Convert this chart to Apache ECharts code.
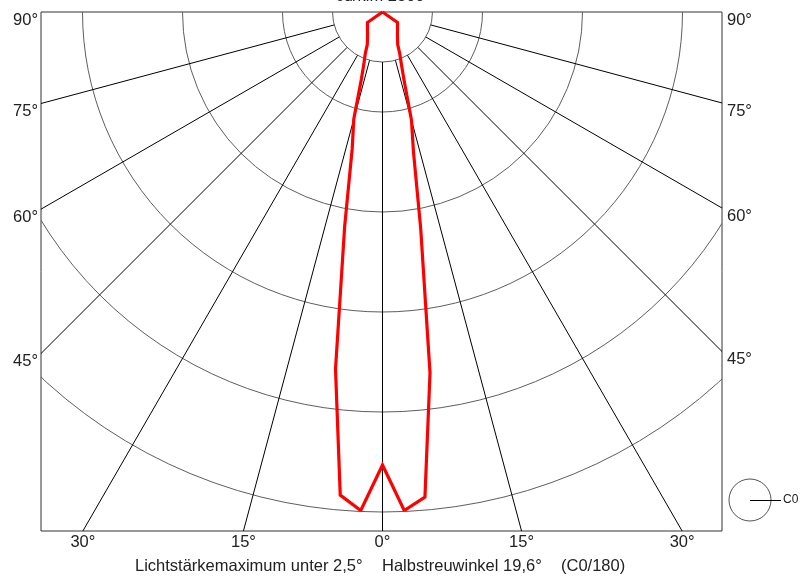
<!DOCTYPE html>
<html>
<head>
<meta charset="utf-8">
<script src="https://cdn.jsdelivr.net/npm/echarts@6/dist/echarts.min.js"></script>
<style>
  html, body { margin: 0; padding: 0; background: #fff; }
  #chart { width: 800px; height: 578px; }
</style>
</head>
<body>
<div id="chart"></div>
<script>
// Luminous intensity (cd/klm) per gamma angle in degrees, C0 and C180 half-planes
const gammaAngles   = [0, 2.5, 5, 7.5, 10, 12.5, 15, 17.5, 20, 22.5, 25, 30, 35, 40, 45, 50, 55, 60, 70, 80, 90];
const intensityC0   = [2265, 2495, 2435, 1820, 1100, 715, 560, 360, 275, 225, 180, 150, 130, 117, 106, 98, 92, 0, 0, 0, 0];
const intensityC180 = [2265, 2495, 2425, 1800, 1090, 700, 555, 350, 270, 225, 180, 150, 130, 117, 106, 98, 92, 0, 0, 0, 0];

// Grid: intensity rings and angle spokes
const ringValues = [250, 500, 1000, 1500, 2000, 2500];
const spokeAngles = [-75, -60, -45, -30, -15, 0, 15, 30, 45, 60, 75];
const sideTickAngles = [45, 60, 75, 90];
const bottomTickAngles = [-30, -15, 0, 15, 30];

const unitLabel = 'cd/klm 2500';
const peakText = 'Lichtstärkemaximum unter 2,5°';
const beamText = 'Halbstreuwinkel 19,6°';
const planeText = '(C0/180)';
const planeMark = 'C0';

// Layout (pixels) and scale: 5 cd/klm per pixel
const CX = 382.5, CY = 12;
const FRAME = { left: 41, top: 12, right: 722, bottom: 531 };
const UNITS_PER_PX = 5;
const X_MIN = -(CX - FRAME.left) * UNITS_PER_PX;
const X_MAX = (FRAME.right - CX) * UNITS_PER_PX;
const Y_MIN = -(FRAME.bottom - FRAME.top) * UNITS_PER_PX;
const R_MAX = 2500;

const LABEL_FONT = '16.5px "Liberation Sans", Arial, sans-serif';
const TEXT_COLOR = '#222';

// Polar curve: C180 on the left (angles 360-g), C0 on the right
const curve = [];
for (let i = gammaAngles.length - 1; i >= 1; i--) curve.push([intensityC180[i], 360 - gammaAngles[i]]);
curve.push([intensityC0[0], 0]);
for (let i = 1; i < gammaAngles.length; i++) curve.push([intensityC0[i], gammaAngles[i]]);

const rad = d => d * Math.PI / 180;

const chart = echarts.init(document.getElementById('chart'), null, { renderer: 'canvas' });
chart.setOption({
  animation: false,
  backgroundColor: '#fff',
  grid: {
    left: FRAME.left, top: FRAME.top,
    width: FRAME.right - FRAME.left, height: FRAME.bottom - FRAME.top,
    show: true, borderColor: '#333', borderWidth: 1, backgroundColor: 'transparent'
  },
  xAxis: { type: 'value', min: X_MIN, max: X_MAX, show: false },
  yAxis: { type: 'value', min: Y_MIN, max: 0, show: false },
  polar: { center: [CX, CY], radius: (R_MAX / UNITS_PER_PX) },
  radiusAxis: { type: 'value', min: 0, max: R_MAX, show: false },
  angleAxis: { type: 'value', min: 0, max: 360, startAngle: 270, clockwise: false, show: false },
  graphic: [
    { type: 'text', x: 380, y: 5, silent: true,
      style: { text: unitLabel, font: LABEL_FONT, fill: TEXT_COLOR, align: 'center', verticalAlign: 'bottom' } },
    { type: 'text', x: 135, y: 566, silent: true,
      style: { text: peakText, font: LABEL_FONT, fill: TEXT_COLOR, align: 'left', verticalAlign: 'middle' } },
    { type: 'text', x: 382, y: 566, silent: true,
      style: { text: beamText, font: LABEL_FONT, fill: TEXT_COLOR, align: 'left', verticalAlign: 'middle' } },
    { type: 'text', x: 561, y: 566, silent: true,
      style: { text: planeText, font: LABEL_FONT, fill: TEXT_COLOR, align: 'left', verticalAlign: 'middle' } },
    { type: 'circle', silent: true, shape: { cx: 750, cy: 500, r: 21 },
      style: { fill: 'none', stroke: '#555', lineWidth: 1 } },
    { type: 'line', silent: true, shape: { x1: 750, y1: 500.5, x2: 781, y2: 500.5 },
      style: { stroke: '#000', lineWidth: 1 } },
    { type: 'text', x: 783, y: 500, silent: true,
      style: { text: planeMark, font: '12px "Liberation Sans", Arial, sans-serif', fill: TEXT_COLOR, align: 'left', verticalAlign: 'middle' } }
  ],
  series: [
    {
      // intensity rings, clipped to the frame
      type: 'custom', coordinateSystem: 'cartesian2d', clip: true, silent: true, z: 1,
      data: ringValues.map(v => [v, 0]),
      renderItem(params, api) {
        const c = api.coord([0, 0]);
        const r = api.size([api.value(0), 0])[0];
        return { type: 'circle', shape: { cx: c[0], cy: c[1], r: r },
          style: { fill: 'none', stroke: '#5e5e5e', lineWidth: 1 } };
      }
    },
    {
      // angle spokes from the innermost ring outwards
      type: 'custom', coordinateSystem: 'cartesian2d', clip: true, silent: true, z: 2,
      data: spokeAngles.map(a => [a, 0]),
      renderItem(params, api) {
        const a = rad(api.value(0));
        const r0 = ringValues[0], r1 = 10000;
        const p0 = api.coord([r0 * Math.sin(a), -r0 * Math.cos(a)]);
        const p1 = api.coord([r1 * Math.sin(a), -r1 * Math.cos(a)]);
        return { type: 'line', shape: { x1: p0[0], y1: p0[1], x2: p1[0], y2: p1[1] },
          style: { stroke: '#000', lineWidth: 1 } };
      }
    },
    {
      // angle labels on both side edges
      type: 'custom', coordinateSystem: 'cartesian2d', clip: false, silent: true, z: 3,
      data: sideTickAngles.map(a => [a, 0]),
      renderItem(params, api) {
        const deg = api.value(0);
        const a = rad(deg);
        const t = Math.abs(Math.cos(a)) < 1e-9 ? 0 : Math.cos(a) / Math.sin(a);
        const pl = api.coord([X_MIN, X_MIN * t]);
        const pr = api.coord([X_MAX, -X_MAX * t]);
        const txt = deg + '°';
        return { type: 'group', children: [
          { type: 'text', x: pl[0] - 3, y: pl[1] + 8,
            style: { text: txt, font: LABEL_FONT, fill: TEXT_COLOR, align: 'right', verticalAlign: 'middle',
                     textAlign: 'right', textVerticalAlign: 'middle' } },
          { type: 'text', x: pr[0] + 5, y: pr[1] + 8,
            style: { text: txt, font: LABEL_FONT, fill: TEXT_COLOR, align: 'left', verticalAlign: 'middle',
                     textAlign: 'left', textVerticalAlign: 'middle' } }
        ] };
      }
    },
    {
      // angle labels under the bottom edge
      type: 'custom', coordinateSystem: 'cartesian2d', clip: false, silent: true, z: 3,
      data: bottomTickAngles.map(a => [a, 0]),
      renderItem(params, api) {
        const deg = api.value(0);
        const p = api.coord([-Y_MIN * Math.tan(rad(deg)), Y_MIN]);
        return { type: 'text', x: p[0], y: p[1] + 11,
          style: { text: Math.abs(deg) + '°', font: LABEL_FONT, fill: TEXT_COLOR, align: 'center', verticalAlign: 'middle',
                   textAlign: 'center', textVerticalAlign: 'middle' } };
      }
    },
    {
      // light distribution curve
      type: 'line', coordinateSystem: 'polar', polarIndex: 0, clip: false, silent: true, z: 10,
      data: curve, symbol: 'none', smooth: false,
      lineStyle: { color: '#ff0000', width: 3.2, join: 'miter', miterLimit: 10 }
    }
  ]
});
</script>
</body>
</html>
